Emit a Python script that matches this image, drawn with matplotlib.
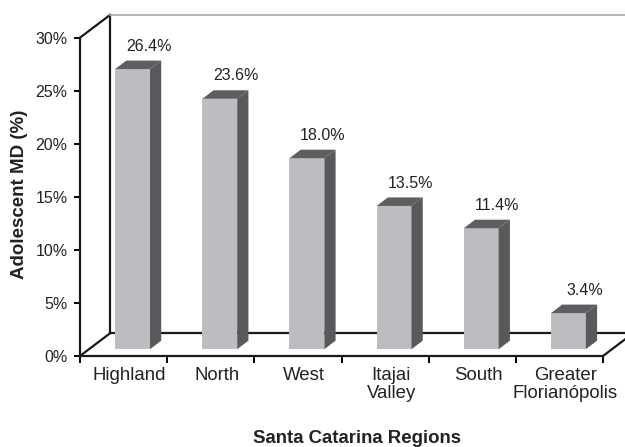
import matplotlib
matplotlib.use("Agg")
import matplotlib.pyplot as plt
from matplotlib.patches import Polygon

plt.rcParams["font.family"] = ["Liberation Sans", "DejaVu Sans"]

regions = ["Highland", "North", "West", "Itajai\nValley", "South", "Greater\nFlorianópolis"]
md_pct = [26.4, 23.6, 18.0, 13.5, 11.4, 3.4]
y_ticks = [0, 5, 10, 15, 20, 25, 30]
y_ticklabels = ["0%", "5%", "10%", "15%", "20%", "25%", "30%"]

# fake 3d depth (data units)
DX, DY = 0.344, 2.14
z0, z1 = 0.30, 0.675
front_col = "#bcbdc0"
dark_col = "#58595b"

fig = plt.figure(figsize=(6.25, 4.47), dpi=100)
ax = fig.add_axes([0.128, 0.2036, 0.8368, 0.7121])
ax.set_xlim(0, 6)
ax.set_ylim(0, 30)
for s in ["top", "right"]:
    ax.spines[s].set_visible(False)
for s in ["left", "bottom"]:
    ax.spines[s].set_linewidth(1.6)
    ax.spines[s].set_color("#1a1a1a")
    ax.spines[s].set_zorder(5)

# walls / floor outline
lw = 1.6
ax.plot([0, DX], [30, 30 + DY], color="#1a1a1a", lw=lw, clip_on=False, zorder=1)
ax.plot([DX, DX], [DY, 30 + DY], color="#1a1a1a", lw=lw, clip_on=False, zorder=1)
ax.plot([0, DX], [0, DY], color="#1a1a1a", lw=lw, clip_on=False, zorder=1)
ax.plot([DX, 6 + DX], [DY, DY], color="#1a1a1a", lw=lw, clip_on=False, zorder=1)
ax.plot([6, 6 + DX], [0, DY], color="#1a1a1a", lw=lw, clip_on=False, zorder=1)
ax.plot([DX, 6 + DX], [30 + DY, 30 + DY], color="#a8a8a8", lw=1.2, clip_on=False, zorder=1)

for i, v in enumerate(md_pct):
    x0 = i + 0.3 + DX * z0
    x1 = i + 0.7 + DX * z0
    yb = DY * z0
    d = z1 - z0
    front = Polygon([(x0, yb), (x1, yb), (x1, yb + v), (x0, yb + v)],
                    closed=True, facecolor=front_col, edgecolor="none", zorder=3, clip_on=False)
    side = Polygon([(x1, yb), (x1 + DX * d, yb + DY * d), (x1 + DX * d, yb + v + DY * d), (x1, yb + v)],
                   closed=True, facecolor=dark_col, edgecolor="none", zorder=3, clip_on=False)
    top = Polygon([(x0, yb + v), (x1, yb + v), (x1 + DX * d, yb + v + DY * d), (x0 + DX * d, yb + v + DY * d)],
                  closed=True, facecolor="#5d5e60", edgecolor="none", zorder=3, clip_on=False)
    ax.add_patch(front)
    ax.add_patch(side)
    ax.add_patch(top)
    ax.text(i + 0.5 + 0.287, v + 2.8, f"{v:.1f}%", ha="center", va="center",
            fontsize=11.5, color="#222222", zorder=6)

ax.set_yticks(y_ticks)
ax.set_yticklabels(y_ticklabels, fontsize=11.5, color="#222222")
ax.tick_params(axis="y", direction="out", length=4, width=1.4, pad=5)
ax.set_xticks(range(7))
ax.set_xticklabels([])
ax.tick_params(axis="x", which="major", direction="out", length=5, width=1.4)
ax.set_xticks([i + 0.5 + 0.07 for i in range(len(regions))], minor=True)
ax.set_xticklabels(regions, minor=True, fontsize=13.4, color="#222222", linespacing=1.05)
ax.tick_params(axis="x", which="minor", length=0, pad=8)

fig.text(0.031, 0.566, "Adolescent MD (%)", rotation=90, ha="center", va="center",
         fontsize=13.5, fontweight="bold", color="#222222")
fig.text(0.571, 0.02, "Santa Catarina Regions", ha="center", va="center",
         fontsize=13.4, fontweight="bold", color="#222222")

fig.savefig("out.png", dpi=100)
